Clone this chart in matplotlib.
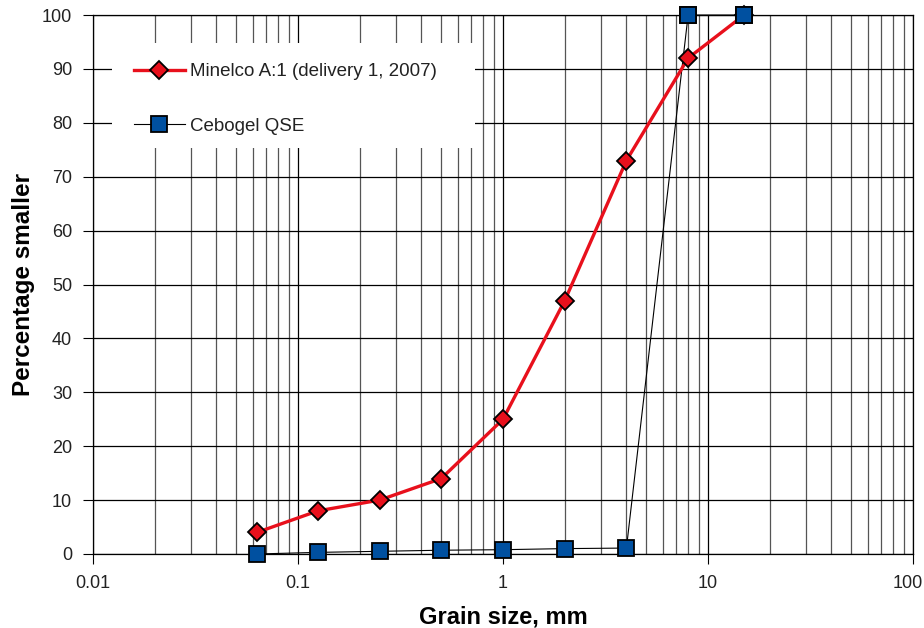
import matplotlib
matplotlib.use("Agg")
import matplotlib.pyplot as plt
from matplotlib.ticker import LogLocator, FixedLocator, NullFormatter
from matplotlib.patches import Rectangle
from matplotlib.transforms import ScaledTranslation

plt.rcParams['font.family'] = ['Liberation Sans', 'DejaVu Sans']

grain_size = [0.063, 0.125, 0.25, 0.5, 1, 2, 4, 8, 15]
minelco = [4, 8, 10, 14, 25, 47, 73, 92, 100]
cebogel = [0, 0.3, 0.5, 0.7, 0.8, 1.0, 1.1, 100, 100]

x_ticks = [0.01, 0.1, 1, 10, 100]
x_tick_labels = ["0.01", "0.1", "1", "10", "100"]
y_ticks = list(range(0, 101, 10))

fig = plt.figure(figsize=(9.24, 6.28), dpi=100)
ax = fig.add_axes([93/924, 1-554/628, 820/924, 539/628])
ax.set_xscale('log')
ax.set_xlim(0.01, 100)
ax.set_ylim(0, 100)

ax.xaxis.set_major_locator(FixedLocator(x_ticks))
ax.set_xticklabels(x_tick_labels)
ax.xaxis.set_minor_locator(LogLocator(base=10, subs=range(2, 10)))
ax.xaxis.set_minor_formatter(NullFormatter())
ax.set_yticks(y_ticks)

ax.grid(True, which='major', axis='both', color='black', linewidth=0.9)
ax.grid(True, which='minor', axis='x', color='#555555', linewidth=0.9)
ax.set_axisbelow(True)

# white legend background covering the grid
ax.add_patch(Rectangle((19/820, 406/539), 363/820, 105/539,
                       transform=ax.transAxes, facecolor='white',
                       edgecolor='none', zorder=1))

ax.plot(grain_size, cebogel, color='black', linewidth=0.8, marker='s',
        markersize=11, markerfacecolor='#0050a0', markeredgecolor='black',
        markeredgewidth=1.3, label='Cebogel QSE', zorder=3, clip_on=False)
ax.plot(grain_size, minelco, color='#e8101c', linewidth=2.4, marker='D',
        markersize=9, markerfacecolor='#e8101c', markeredgecolor='black',
        markeredgewidth=1.3, label='Minelco A:1 (delivery 1, 2007)', zorder=4,
        clip_on=False)
ax.plot(grain_size[-2:], cebogel[-2:], linestyle='none', marker='s',
        markersize=11, markerfacecolor='#0050a0', markeredgecolor='black',
        markeredgewidth=1.3, zorder=5, clip_on=False)

for s in ax.spines.values():
    s.set_color('black')
    s.set_linewidth(0.9)

ax.tick_params(axis='both', which='major', labelsize=13, length=7,
               color='black', labelcolor='#222222', direction='out', pad=8)
ax.tick_params(axis='x', which='minor', length=0)

# keep the last x tick label inside the figure
lbl = ax.xaxis.get_major_ticks()[-1].label1
lbl.set_transform(lbl.get_transform() + ScaledTranslation(-0.05, 0, fig.dpi_scale_trans))

ax.set_xlabel('Grain size, mm', fontsize=17, fontweight='bold', labelpad=10)
ax.set_ylabel('Percentage smaller', fontsize=17.5, fontweight='bold', labelpad=5)

handles, labels = ax.get_legend_handles_labels()
leg = ax.legend([handles[1], handles[0]], [labels[1], labels[0]],
                loc='upper left', bbox_to_anchor=(41/820, 491/539),
                frameon=False, fontsize=13.5, handlelength=2.7,
                handletextpad=0.3, labelspacing=2.0, borderpad=0,
                borderaxespad=0)
for t in leg.get_texts():
    t.set_color('#222222')

fig.savefig('out.png', dpi=100)
